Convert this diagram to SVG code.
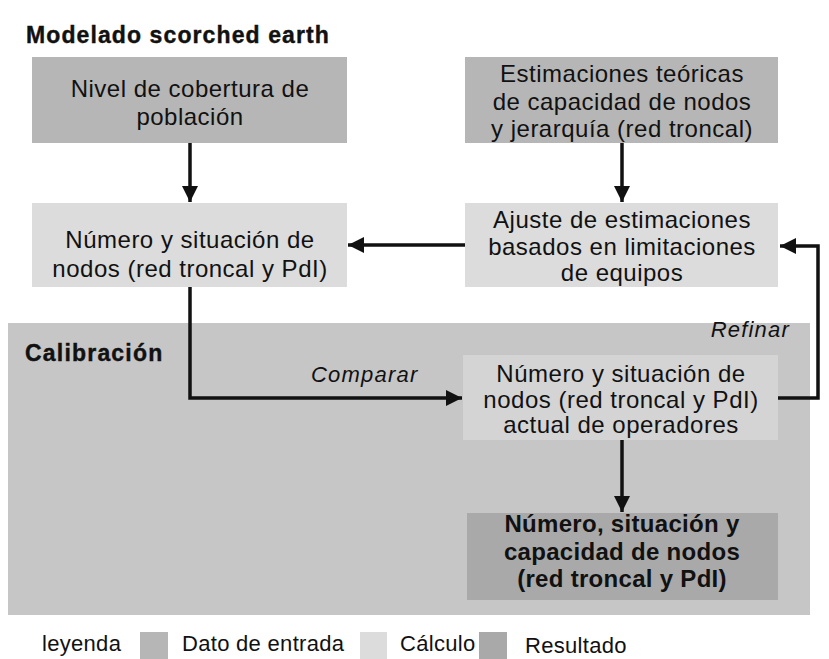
<svg xmlns="http://www.w3.org/2000/svg" width="829" height="659" viewBox="0 0 829 659">
<style>
.t{font-family:"Liberation Sans",Arial,sans-serif;font-size:24px;letter-spacing:0.5px;fill:#111;text-anchor:middle}
.b{font-family:"Liberation Sans",Arial,sans-serif;font-size:24px;font-weight:bold;fill:#111;text-anchor:middle;letter-spacing:0.3px}
.h{font-family:"Liberation Sans",Arial,sans-serif;font-size:23px;font-weight:bold;fill:#111;stroke:#111;stroke-width:0.4}
.i{font-family:"Liberation Sans",Arial,sans-serif;font-size:22px;font-style:italic;fill:#111;letter-spacing:1.2px}
.l{font-family:"Liberation Sans",Arial,sans-serif;font-size:22px;fill:#111;letter-spacing:0.3px}
.in{fill:#b6b6b6}
.ca{fill:#dcdcdc}
.re{fill:#a9a9a9}
.c{fill:none;stroke:#111;stroke-width:3.5}
</style>
<defs>
<marker id="ah" viewBox="0 0 10 10" refX="10" refY="5" markerWidth="4.6" markerHeight="4.6" markerUnits="strokeWidth" orient="auto">
<path d="M0,0 L10,5 L0,10 z" fill="#111"/>
</marker>
</defs>
<rect width="829" height="659" fill="#ffffff"/>
<g id="calibracion">
<rect x="8" y="323" width="802" height="292" fill="#c6c6c6"/>
<text class="h" x="25" y="361" letter-spacing="1.2">Calibración</text>
</g>
<text class="h" x="26" y="43" letter-spacing="1.1">Modelado scorched earth</text>
<g id="n1">
<rect class="in" x="32" y="57" width="315" height="86"/>
<text class="t" x="190" y="97">Nivel de cobertura de</text>
<text class="t" x="190" y="125">población</text>
</g>
<g id="n2">
<rect class="in" x="465" y="57" width="313" height="86"/>
<text class="t" x="622" y="82">Estimaciones teóricas</text>
<text class="t" x="622" y="110">de capacidad de nodos</text>
<text class="t" x="622" y="137">y jerarquía (red troncal)</text>
</g>
<g id="n3">
<rect class="ca" x="32" y="203" width="315" height="84"/>
<text class="t" x="190" y="248" letter-spacing="0.6">Número y situación de</text>
<text class="t" x="190" y="277" letter-spacing="0.6">nodos (red troncal y PdI)</text>
</g>
<g id="n4">
<rect class="ca" x="465" y="203" width="313" height="84"/>
<text class="t" x="622" y="228">Ajuste de estimaciones</text>
<text class="t" x="622" y="255">basados en limitaciones</text>
<text class="t" x="622" y="281">de equipos</text>
</g>
<g id="n5">
<rect x="463" y="355" width="315" height="85" fill="#d4d4d4"/>
<text class="t" x="621" y="382">Número y situación de</text>
<text class="t" x="621" y="408">nodos (red troncal y PdI)</text>
<text class="t" x="621" y="433">actual de operadores</text>
</g>
<g id="n6">
<rect class="re" x="467" y="513" width="311" height="87"/>
<text class="b" x="622" y="532">Número, situación y</text>
<text class="b" x="622" y="560">capacidad de nodos</text>
<text class="b" x="622" y="587">(red troncal y PdI)</text>
</g>
<g id="connectors">
<path class="c" d="M190,143 V202" marker-end="url(#ah)"/>
<path class="c" d="M622,143 V202" marker-end="url(#ah)"/>
<path class="c" d="M465,245 H348" marker-end="url(#ah)"/>
<path class="c" d="M190,287 V398 H462" marker-end="url(#ah)"/>
<path class="c" d="M778,398 H818 V246 H780" marker-end="url(#ah)"/>
<path class="c" d="M622,440 V512" marker-end="url(#ah)"/>
<text class="i" x="311" y="382">Comparar</text>
<text class="i" x="790" y="337" text-anchor="end">Refinar</text>
</g>
<g id="legend">
<text class="l" x="42" y="651">leyenda</text>
<rect class="in" x="140" y="632" width="28" height="27"/>
<text class="l" x="182" y="651">Dato de entrada</text>
<rect class="ca" x="360" y="632" width="27" height="27"/>
<text class="l" x="400" y="651" font-size="21" letter-spacing="0">Cálculo</text>
<rect class="re" x="479" y="632" width="28" height="27"/>
<text class="l" x="525" y="653">Resultado</text>
</g>
</svg>
